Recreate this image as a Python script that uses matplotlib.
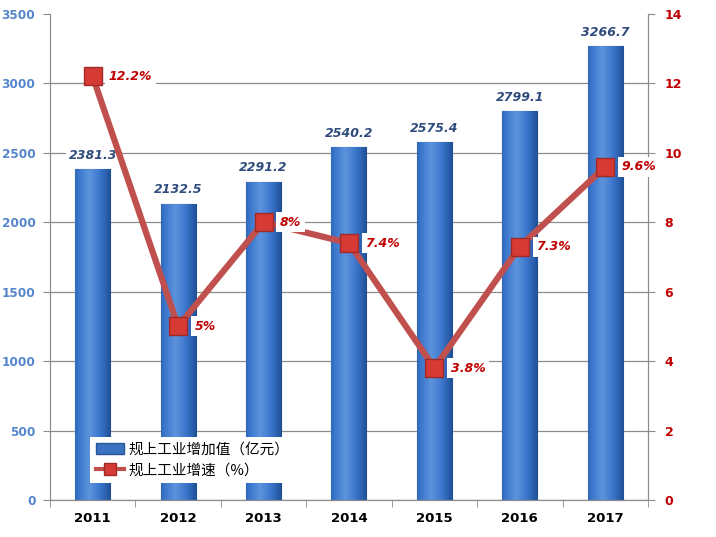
import numpy as np
import matplotlib
matplotlib.use("Agg")
from matplotlib import pyplot as plt
from matplotlib.lines import Line2D
from matplotlib.patches import Patch

plt.rcParams['font.family'] = ['Noto Sans CJK SC', 'DejaVu Sans']

# Data
years = ['2011', '2012', '2013', '2014', '2015', '2016', '2017']
value_added = [2381.3, 2132.5, 2291.2, 2540.2, 2575.4, 2799.1, 3266.7]
growth = [12.2, 5, 8, 7.4, 3.8, 7.3, 9.6]
growth_labels = ['12.2%', '5%', '8%', '7.4%', '3.8%', '7.3%', '9.6%']
bar_name = '规上工业增加值（亿元）'
line_name = '规上工业增速（%）'

axis_gray = '#8c8c8c'
bar_blue = '#3b72c2'
line_red = '#c0504d'

fig = plt.figure(figsize=(7.16, 5.37), dpi=100, facecolor='white')
ax = fig.add_axes([0.0698, 0.069, 0.8352, 0.905])
x = np.arange(len(years))

bars = ax.bar(x, value_added, width=0.41, color=bar_blue,
              edgecolor='#2a5597', linewidth=0.8, zorder=2)

# horizontal gradient on each bar
grad = np.linspace(0, 1, 64)
grad = 1 - np.abs(grad - 0.4) * 1.5
grad = np.clip(grad, 0, 1)[None, :]
cmap = matplotlib.colors.LinearSegmentedColormap.from_list(
    'b', ['#1f4f96', '#3a76cc', '#5d93dc'])
for b in bars:
    x0, y0 = b.get_x(), b.get_y()
    im = ax.imshow(grad, extent=[x0, x0 + b.get_width(), y0, y0 + b.get_height()],
                   aspect='auto', cmap=cmap, zorder=2.1)
    im.set_clip_path(b)

for xi, v in zip(x, value_added):
    ax.text(xi, v + 55, f'{v}', ha='center', va='bottom', fontsize=9,
            fontweight='bold', style='italic', color='#2f4b7c',
            family='DejaVu Sans', zorder=5,
            bbox=dict(facecolor='white', edgecolor='none', pad=2))

ax.set_xlim(-0.5, len(years) - 0.5)
ax.set_ylim(0, 3500)
ax.set_yticks(range(0, 3501, 500))
ax.set_xticks(x)
ax.set_xticklabels(years, fontsize=9.5, fontweight='bold', family='DejaVu Sans')
ax.set_xticks(np.arange(-0.5, len(years), 1), minor=True)
ax.tick_params(axis='x', which='major', length=0, pad=9)
ax.tick_params(axis='x', which='minor', length=5, color=axis_gray, direction='out')
ax.tick_params(axis='y', length=5, color=axis_gray, labelsize=8.7,
               labelcolor='#5585cc', pad=5.5)
for lab in ax.get_yticklabels():
    lab.set_fontweight('bold')
    lab.set_family('DejaVu Sans')
ax.grid(axis='y', color=axis_gray, linewidth=0.9, zorder=0)
ax.yaxis.get_gridlines()[-1].set_visible(False)
ax.set_axisbelow(True)
for s in ['left', 'right', 'bottom']:
    ax.spines[s].set_color(axis_gray)
ax.spines['top'].set_visible(False)

ax2 = ax.twinx()
ax2.set_ylim(0, 14)
ax2.set_yticks(range(0, 15, 2))
ax2.plot(x, growth, color=line_red, linewidth=4.5, marker='s', markersize=13,
         markerfacecolor='#d63a35', markeredgecolor='#a02a28',
         markeredgewidth=1, zorder=3)
for xi, v, lab in zip(x, growth, growth_labels):
    ax2.text(xi + 0.19, v, lab, ha='left', va='center', fontsize=9,
             fontweight='bold', style='italic', color='#c00000',
             family='DejaVu Sans', zorder=5,
             bbox=dict(facecolor='white', edgecolor='none', pad=2.5))
ax2.tick_params(axis='y', length=5, color=axis_gray, labelsize=9,
                labelcolor='#c00000', pad=7)
for lab in ax2.get_yticklabels():
    lab.set_fontweight('bold')
    lab.set_family('DejaVu Sans')
for s in ['left', 'right', 'bottom']:
    ax2.spines[s].set_color(axis_gray)
ax2.spines['top'].set_visible(False)

handles = [Patch(facecolor=bar_blue, edgecolor='#2a5597'),
           Line2D([], [], color=line_red, linewidth=3, marker='s',
                  markersize=8, markerfacecolor='#d63a35',
                  markeredgecolor='#a02a28')]
leg = ax2.legend(handles, [bar_name, line_name], loc='lower left',
                 bbox_to_anchor=(0.055, 0.02), frameon=True, fancybox=False,
                 edgecolor='none', framealpha=1, fontsize=10.5,
                 handlelength=1.9, handletextpad=0.3, labelspacing=0.45,
                 borderpad=0.4)
leg.set_zorder(10)

fig.savefig('out.png', dpi=100, facecolor='white')
